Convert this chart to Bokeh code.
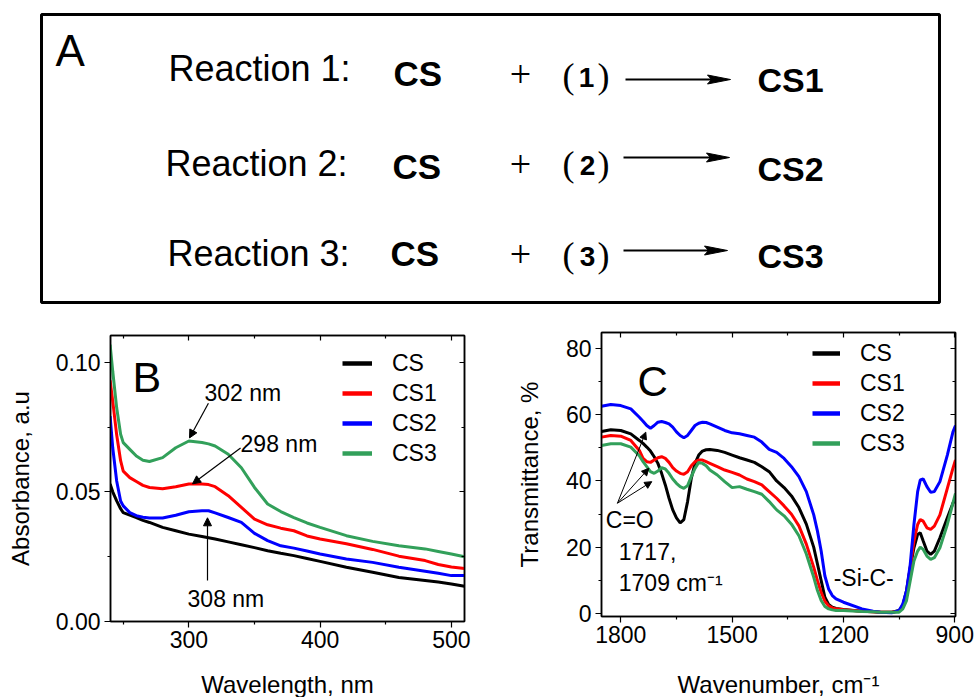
from bokeh.plotting import figure
from bokeh.models import (Range1d, FixedTicker, NumeralTickFormatter, LinearAxis,
                          Legend, LegendItem, Label, Arrow, NormalHead)
from bokeh.layouts import column, row
from bokeh.embed import file_html
from bokeh.resources import INLINE
from bokeh.core.properties import value

FONT = "Liberation Sans"
SERIF = "Liberation Serif"

# ---------------- Panel A content ----------------
reaction_labels = ["Reaction 1:", "Reaction 2:", "Reaction 3:"]
reactants = ["CS", "CS", "CS"]
reagent_ids = ["1", "2", "3"]
products = ["CS1", "CS2", "CS3"]

# ---------------- Panel B data (UV-Vis) ----------------
wavelength_nm = [240, 242, 245, 248, 250, 255, 260, 265, 270, 280, 290, 300, 310, 315, 320,
                 330, 340, 350, 360, 370, 380, 390, 400, 420, 440, 460, 480, 490, 500, 510]
abs_CS = [0.053, 0.050, 0.0465, 0.0435, 0.042, 0.041, 0.0401, 0.039, 0.0382, 0.0363, 0.035,
          0.0337, 0.0328, 0.0323, 0.0318, 0.0307, 0.0296, 0.0285, 0.0273, 0.0263, 0.0254,
          0.0243, 0.0232, 0.0209, 0.019, 0.017, 0.0158, 0.0152, 0.0145, 0.0136]
abs_CS1 = [0.093, 0.085, 0.072, 0.062, 0.058, 0.0555, 0.054, 0.0525, 0.0517, 0.0512, 0.052,
           0.053, 0.053, 0.0528, 0.052, 0.0485, 0.044, 0.0395, 0.0373, 0.036, 0.035, 0.033,
           0.0318, 0.030, 0.0278, 0.0252, 0.0235, 0.022, 0.021, 0.0204]
abs_CS2 = [0.0792, 0.067, 0.0542, 0.0465, 0.0446, 0.042, 0.0408, 0.0402, 0.0399, 0.0399, 0.041,
           0.0423, 0.0427, 0.0427, 0.0419, 0.0401, 0.0382, 0.034, 0.0312, 0.0292, 0.0283,
           0.0272, 0.026, 0.0241, 0.0228, 0.0209, 0.0194, 0.0186, 0.0177, 0.0177]
abs_CS3 = [0.1068, 0.0965, 0.0824, 0.0722, 0.069, 0.0664, 0.0638, 0.0622, 0.0617, 0.0632, 0.067,
           0.0696, 0.069, 0.0685, 0.0677, 0.0645, 0.0593, 0.0517, 0.0453, 0.0424, 0.0401,
           0.038, 0.0363, 0.0331, 0.0309, 0.0292, 0.028, 0.027, 0.026, 0.025]

# ---------------- Panel C data (FTIR) ----------------
wavenumber = [1852, 1827, 1800, 1773, 1750, 1740, 1730, 1720, 1710, 1700, 1690, 1680, 1670, 1660,
              1650, 1640, 1630, 1620, 1610, 1600, 1590, 1580, 1570, 1560, 1540, 1520, 1500, 1480,
              1460, 1440, 1420, 1400, 1380, 1360, 1340, 1320, 1300, 1280, 1270, 1260, 1250, 1240,
              1230, 1220, 1200, 1150, 1120, 1100, 1070, 1050, 1040, 1030, 1020, 1010, 1000, 993,
              985, 975, 965, 955, 940, 920, 905, 898]
tr_CS = [54.9, 55.4, 55.2, 54.2, 52.2, 51.3, 50.2, 49.0, 47.3, 45.3, 42.3, 38.8, 34.8, 31.3,
         28.9, 27.4, 28.4, 33.8, 40.8, 45.3, 47.8, 49.0, 49.4, 49.5, 49.2, 48.6, 47.8, 47.0,
         46.3, 45.6, 44.3, 42.8, 40.0, 38.0, 35.5, 32.0, 27.0, 20.0, 15.0, 10.0, 5.0, 2.8,
         2.0, 1.6, 1.3, 0.8, 0.6, 0.5, 0.5, 1.0, 2.5, 7.0, 13.9, 19.9, 23.9, 24.4,
         21.9, 18.9, 17.9, 18.9, 22.9, 28.9, 33.3, 34.8]
tr_CS1 = [53.2, 53.7, 53.5, 52.2, 49.2, 46.8, 45.8, 45.6, 46.3, 47.0, 47.3, 46.8, 45.6, 44.0,
          43.0, 42.3, 42.0, 42.8, 44.6, 45.8, 46.3, 46.3, 45.8, 45.3, 44.3, 43.3, 42.6, 41.8,
          40.6, 39.8, 38.8, 36.8, 34.8, 32.5, 30.0, 26.5, 21.0, 14.0, 10.0, 6.5, 3.8, 2.4,
          1.8, 1.5, 1.2, 0.8, 0.6, 0.5, 0.5, 0.8, 2.2, 6.0, 13.9, 21.9, 26.9, 28.4,
          27.9, 25.9, 25.4, 26.4, 29.8, 37.8, 43.8, 46.3]
tr_CS2 = [62.5, 63.0, 62.7, 61.7, 59.2, 58.0, 56.7, 55.9, 56.7, 57.7, 57.9, 57.6, 57.2, 56.2,
          54.8, 53.7, 53.0, 53.7, 55.2, 56.7, 57.4, 57.7, 57.6, 57.2, 56.2, 55.2, 54.5, 54.2,
          53.7, 53.2, 51.7, 49.5, 48.6, 46.8, 44.3, 41.3, 36.8, 29.8, 24.9, 18.9, 11.4, 7.5,
          5.5, 4.5, 3.5, 1.5, 0.8, 0.5, 0.3, 1.0, 3.0, 7.0, 14.9, 26.9, 36.8, 40.3,
          40.6, 38.3, 36.6, 36.8, 39.8, 47.8, 54.7, 56.7]
tr_CS3 = [50.7, 51.2, 51.2, 50.2, 47.6, 45.8, 44.3, 42.8, 42.3, 43.0, 44.0, 43.6, 42.3, 40.6,
          39.3, 38.3, 37.8, 38.6, 41.3, 43.8, 45.6, 45.3, 44.6, 43.3, 41.8, 39.8, 38.0, 38.3,
          37.5, 36.8, 36.0, 33.8, 31.3, 29.5, 27.0, 23.5, 18.0, 11.0, 7.0, 4.0, 2.2, 1.5,
          1.2, 1.0, 1.0, 0.7, 0.6, 0.5, 0.5, 0.5, 1.5, 4.0, 10.0, 15.9, 18.9, 20.1,
          19.4, 17.4, 16.4, 16.9, 19.9, 26.9, 33.3, 36.3]

series_names = ["CS", "CS1", "CS2", "CS3"]
series_colors = ["#000000", "#ff0000", "#0000ff", "#32a05a"]

b_xticks, b_xminor = [300, 400, 500], [250, 350, 450]
b_yticks, b_yminor = [0.0, 0.05, 0.10], [0.025, 0.075]
c_xticks, c_xminor = [1800, 1500, 1200, 900], [1650, 1350, 1050]
c_yticks, c_yminor = [0, 20, 40, 60, 80], [10, 30, 50, 70]
x_titles = ["Wavelength, nm", "Wavenumber, cm\u207b\u00b9"]
y_titles = ["Absorbance, a.u", "Transmittance, %"]

# ================= Panel A =================
pa = figure(width=976, height=318, x_range=Range1d(0, 976), y_range=Range1d(318, 0),
            output_backend="svg", toolbar_location=None, min_border=0,
            x_axis_location=None, y_axis_location=None, outline_line_color=None)
pa.grid.visible = False
pa.quad(left=[41], right=[939], top=[14], bottom=[302], fill_color=None,
        line_color="black", line_width=3)


def ptext(p, xs, ys, texts, size, font=FONT, bold=False, align="left"):
    p.text(x=xs, y=ys, text=texts, text_font=value(font), text_font_size=size,
           text_font_style="bold" if bold else "normal", text_align=align,
           text_baseline="middle", text_color="black")


ptext(pa, [55], [50], ["A"], "44px")
ptext(pa, [168, 165, 167], [67.5, 162.5, 252.5], reaction_labels, "36px")
ptext(pa, [393, 392, 390], [72.9, 165.9, 252.9], reactants, "35px", bold=True)
ptext(pa, [520, 520, 520], [73.7, 163.7, 253.7], ["+", "+", "+"], "38px", font=SERIF,
      align="center")
ptext(pa, [562, 562, 562], [75.6, 163.1, 254.6], ["(", "(", "("], "36px", font=SERIF)
ptext(pa, [586, 587, 587], [77, 165, 256], reagent_ids, "28px", bold=True, align="center")
ptext(pa, [597, 597, 597], [75.6, 163.1, 254.6], [")", ")", ")"], "36px", font=SERIF)
ptext(pa, [757, 757, 757], [79.2, 168.2, 255.2], products, "34px", bold=True)

arr_y = [79, 157, 250]
arr_x0 = [625, 623, 623]
arr_x1 = [730, 729, 727]
pa.segment(x0=arr_x0, y0=arr_y, x1=[x - 18 for x in arr_x1], y1=arr_y,
           line_color="black", line_width=1.8)
pa.patches(xs=[[x - 23, x, x - 23, x - 19] for x in arr_x1],
           ys=[[y - 4.5, y, y + 4.5, y] for y in arr_y],
           fill_color="black", line_color="black", line_width=1)


def style(p, xt, xm, yt, ym, ylabel, ystand):
    p.grid.visible = False
    p.outline_line_color = "black"
    p.outline_line_width = 1.5
    if "frame_align" in p.properties():
        p.frame_align = False
    xa, ya = p.below[0], p.left[0]
    xa.ticker = FixedTicker(ticks=xt, minor_ticks=xm)
    ya.ticker = FixedTicker(ticks=yt, minor_ticks=ym)
    for ax in (xa, ya):
        ax.axis_line_color = "black"
        ax.axis_line_width = 1.5
        ax.major_tick_line_color = "black"
        ax.minor_tick_line_color = "black"
        ax.major_tick_line_width = 1.2
        ax.minor_tick_line_width = 1.2
        ax.major_tick_out = 6
        ax.major_tick_in = 0
        ax.minor_tick_out = 3
        ax.minor_tick_in = 0
        ax.major_label_text_font = FONT
        ax.major_label_text_font_size = "23px"
        ax.major_label_text_color = "black"
        ax.axis_label_text_font = FONT
        ax.axis_label_text_font_size = "24px"
        ax.axis_label_text_font_style = "normal"
        ax.axis_label_text_color = "black"
    xa.major_label_standoff = 3
    ya.major_label_standoff = 4
    ya.axis_label = ylabel
    ya.axis_label_standoff = ystand
    for loc, t, m in (("above", xt, xm), ("right", yt, ym)):
        ax = LinearAxis(ticker=FixedTicker(ticks=t, minor_ticks=m),
                        major_label_text_font_size="0px", major_label_text_color=None,
                        major_label_standoff=0, axis_label=None,
                        major_tick_in=5, major_tick_out=0, minor_tick_in=3, minor_tick_out=0,
                        axis_line_color="black", axis_line_width=1.5,
                        major_tick_line_color="black", minor_tick_line_color="black",
                        major_tick_line_width=1.2, minor_tick_line_width=1.2)
        p.add_layout(ax, loc)
    return xa, ya


def add_legend(p, xs, series, loc, glyph_w):
    items = []
    for n, ys, c in zip(series_names, series, series_colors):
        r = p.line(xs, ys, color=c, line_width=4.5, visible=False)
        items.append(LegendItem(label=n, renderers=[r]))
    lg = Legend(items=items, location=loc, border_line_color=None, background_fill_alpha=0,
                padding=0, margin=0, spacing=0, glyph_width=glyph_w, glyph_height=30,
                label_height=30, label_standoff=20, label_text_font=FONT,
                label_text_font_size="23px", label_text_color="black",
                label_text_baseline="middle", inactive_fill_alpha=0)
    p.add_layout(lg, "center")


def txt(p, x, y, s, size="23px", align="left"):
    p.add_layout(Label(x=x, y=y, text=s, text_font=FONT, text_font_size=size,
                       text_color="black", text_baseline="middle", text_align=align))


def arrow(p, xs, ys, xe, ye, size=8, lw=1.2):
    p.add_layout(Arrow(end=NormalHead(size=size, fill_color="black", line_color="black",
                                      line_width=1),
                       x_start=xs, y_start=ys, x_end=xe, y_end=ye,
                       line_color="black", line_width=lw))


# ================= Panel B =================
pb = figure(width=500, height=350, x_range=Range1d(240.3, 510), y_range=Range1d(0, 0.1103),
            output_backend="svg", toolbar_location=None,
            min_border_left=110, min_border_right=36, min_border_top=17, min_border_bottom=47)
bx, by = style(pb, b_xticks, b_xminor, b_yticks, b_yminor, y_titles[0], 19)
by.formatter = NumeralTickFormatter(format="0.00")
b_series = [abs_CS, abs_CS1, abs_CS2, abs_CS3]
for ys, c in zip(b_series, series_colors):
    pb.line(wavelength_nm, ys, color=c, line_width=3)
add_legend(pb, wavelength_nm, b_series, (232, 153), 30)
txt(pb, 257.1, 0.0942, "B", size="43px")
txt(pb, 311.9, 0.0881, "302 nm")
txt(pb, 339.4, 0.0685, "298 nm")
txt(pb, 299.0, 0.0088, "308 nm")
arrow(pb, 314.9, 0.0842, 300.5, 0.0708)
arrow(pb, 339.4, 0.0669, 302.8, 0.0531)
arrow(pb, 314.2, 0.0158, 314.2, 0.0400)

# ================= Panel C =================
pc = figure(width=476, height=350, x_range=Range1d(1852, 898), y_range=Range1d(-0.8, 84.7),
            output_backend="svg", toolbar_location=None,
            min_border_left=101, min_border_right=21, min_border_top=14, min_border_bottom=52)
cx, cy = style(pc, c_xticks, c_xminor, c_yticks, c_yminor, y_titles[1], 20)
c_series = [tr_CS, tr_CS1, tr_CS2, tr_CS3]
for ys, c in zip(c_series, series_colors):
    pc.line(wavenumber, ys, color=c, line_width=3)
add_legend(pc, wavenumber, c_series, (211, 158), 28)
txt(pc, 1755, 69.9, "C", size="42px")
txt(pc, 1840.4, 28.4, "C=O")
txt(pc, 1805.4, 18.9, "1717,")
txt(pc, 1805.4, 9.4, "1709 cm\u207b\u00b9")
txt(pc, 1226.3, 10.9, "-Si-C-")
for xe, ye in ((1732.7, 54.7), (1724.6, 43.8), (1716.5, 39.8)):
    arrow(pc, 1809.0, 33.3, xe, ye, size=7, lw=1.0)

# ================= x-axis titles strip =================
pl = figure(width=976, height=29, x_range=Range1d(0, 976), y_range=Range1d(697, 668),
            output_backend="svg", toolbar_location=None, min_border=0,
            x_axis_location=None, y_axis_location=None, outline_line_color=None)
pl.grid.visible = False
ptext(pl, [287, 778], [684, 684], x_titles, "24px", align="center")

layout = column(pa, row(pb, pc), pl)
open("out.html", "w").write(file_html(layout, INLINE))
